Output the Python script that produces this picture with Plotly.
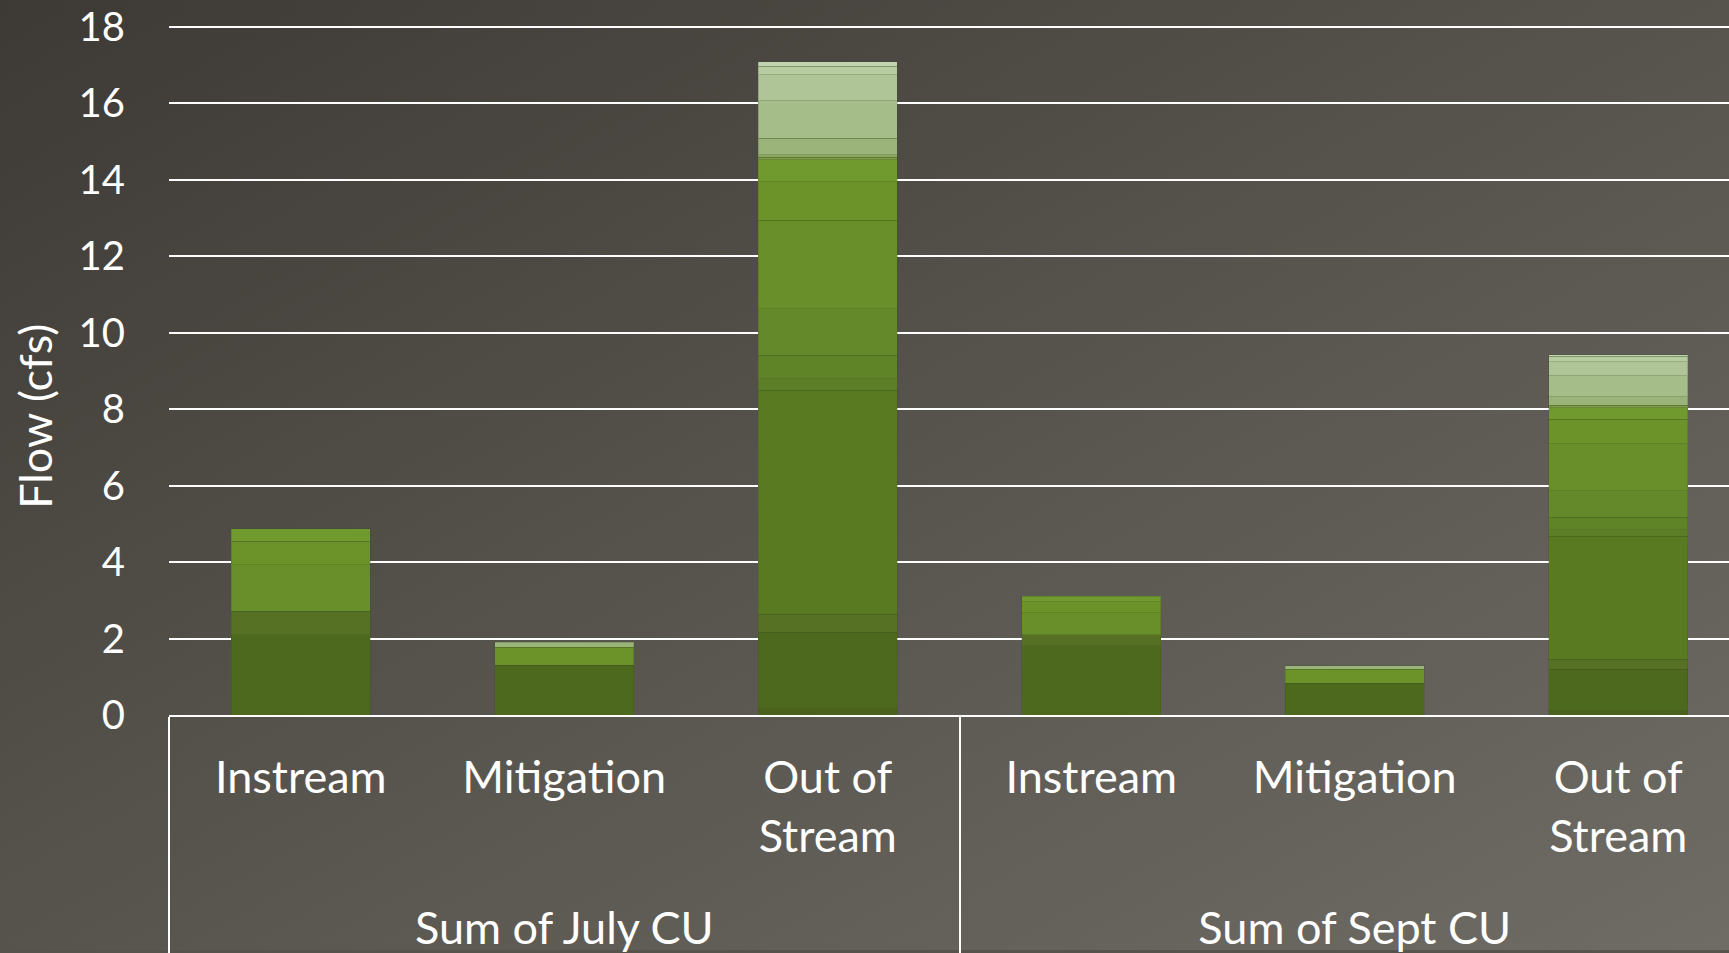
import base64
import plotly.graph_objects as go

# ---- data ----
groups = ["Sum of July CU"] * 3 + ["Sum of Sept CU"] * 3
categories = ["Instream", "Mitigation", "Out of<br>Stream<br>\u00a0"] * 2

series_colors = [
    "#4a621c", "#4d691e", "#567124", "#5a7a22", "#5c7e26", "#5f8428",
    "#64892a", "#688f2a", "#6b932a", "#719a2e", "#7c9c45", "#8aa85c",
    "#9ab47a", "#a5bd88", "#afc597", "#b8cca2", "#c2d4b0",
]
s1 = [0, 0, 0.17, 0, 0, 0.11]
s2 = [2.10, 1.30, 1.99, 1.81, 0.83, 1.09]
s3 = [0.62, 0, 0.47, 0.29, 0, 0.26]
s4 = [0, 0, 5.86, 0, 0, 3.21]
s5 = [0, 0, 0.31, 0, 0, 0.17]
s6 = [0, 0, 0.61, 0, 0, 0.33]
s7 = [0, 0, 1.22, 0, 0, 0.69]
s8 = [1.21, 0, 2.31, 0.58, 0, 1.24]
s9 = [0.62, 0.47, 1.01, 0.28, 0.37, 0.64]
s10 = [0.32, 0, 0.58, 0.15, 0, 0.30]
s11 = [0, 0, 0.06, 0, 0, 0.06]
s12 = [0, 0, 0.07, 0, 0, 0]
s13 = [0, 0.13, 0.43, 0, 0.09, 0.23]
s14 = [0, 0, 0.98, 0, 0, 0.55]
s15 = [0, 0, 0.68, 0, 0, 0.36]
s16 = [0, 0, 0.22, 0, 0, 0.15]
s17 = [0, 0, 0.12, 0, 0, 0.04]
series = [s1, s2, s3, s4, s5, s6, s7, s8, s9, s10, s11, s12, s13, s14, s15, s16, s17]

y_ticks = [0, 2, 4, 6, 8, 10, 12, 14, 16, 18]
y_max = 18.05

FONT = "Lato, 'Open Sans', sans-serif"
W, H = 1729, 953
ML, MR, MB = 169, 0, 236
ph = (H - MB - 26.5) * y_max / 18.0
MT = int(round(H - MB - ph))
ph = H - MT - MB
pw = W - ML - MR

fig = go.Figure()
for vals, col in zip(series, series_colors):
    fig.add_trace(go.Bar(
        x=[groups, categories],
        y=[v if v else None for v in vals],
        marker=dict(color=col, line=dict(color="rgba(60,80,30,0.25)", width=1)),
        showlegend=False,
    ))

# background gradient as an SVG image
svg = (
    '<svg xmlns="http://www.w3.org/2000/svg" width="1729" height="953">'
    '<defs><linearGradient id="g" x1="0" y1="0" x2="1" y2="1">'
    '<stop offset="0" stop-color="#3d3934"/>'
    '<stop offset="0.5" stop-color="#57534d"/>'
    '<stop offset="1" stop-color="#6f6b65"/>'
    '</linearGradient></defs>'
    '<rect width="1729" height="953" fill="url(#g)"/></svg>'
)
src = "data:image/svg+xml;base64," + base64.b64encode(svg.encode()).decode()
fig.add_layout_image(dict(
    source=src, xref="paper", yref="paper",
    x=-ML / pw, y=1 + MT / ph, sizex=W / pw, sizey=H / ph,
    sizing="stretch", layer="below", xanchor="left", yanchor="top",
))

# right edge of the plot is cut by the picture: 6 categories of ~263.5 px
cat_px = 263.5
xmax = -0.5 + pw / cat_px

# y-axis title placed as rotated text, like the original
fig.add_annotation(
    text="Flow (cfs)", textangle=-90, showarrow=False,
    xref="paper", yref="paper",
    x=(35 - ML) / pw, y=(H - MB - 418) / ph,
    xanchor="center", yanchor="middle",
    font=dict(size=45, color="white", family=FONT),
)

fig.update_layout(
    width=W, height=H,
    margin=dict(l=ML, r=MR, t=MT, b=MB, pad=0),
    paper_bgcolor="#56524c",
    plot_bgcolor="rgba(0,0,0,0)",
    barmode="stack",
    bargap=0.473,
    font=dict(family=FONT, color="white"),
    xaxis=dict(
        type="multicategory",
        range=[-0.5, xmax],
        showline=True, linecolor="white", linewidth=2,
        showgrid=False,
        ticks="",
        ticklabelstandoff=22,
        tickfont=dict(size=45, color="white"),
        showdividers=True, dividercolor="white", dividerwidth=2,
    ),
    yaxis=dict(
        range=[0, y_max],
        tickvals=y_ticks,
        showgrid=True, gridcolor="white", gridwidth=1.5,
        zeroline=False, showline=False,
        tickfont=dict(size=40, color="white"),
        ticklabelstandoff=43,
    ),
)

fig.write_html("out.html", config={"displayModeBar": False})
with open("out.html", "r", encoding="utf-8") as f:
    html = f.read()
html = html.replace("<head>", "<head><style>html,body{margin:0;padding:0;overflow:hidden}</style>", 1)
with open("out.html", "w", encoding="utf-8") as f:
    f.write(html)
